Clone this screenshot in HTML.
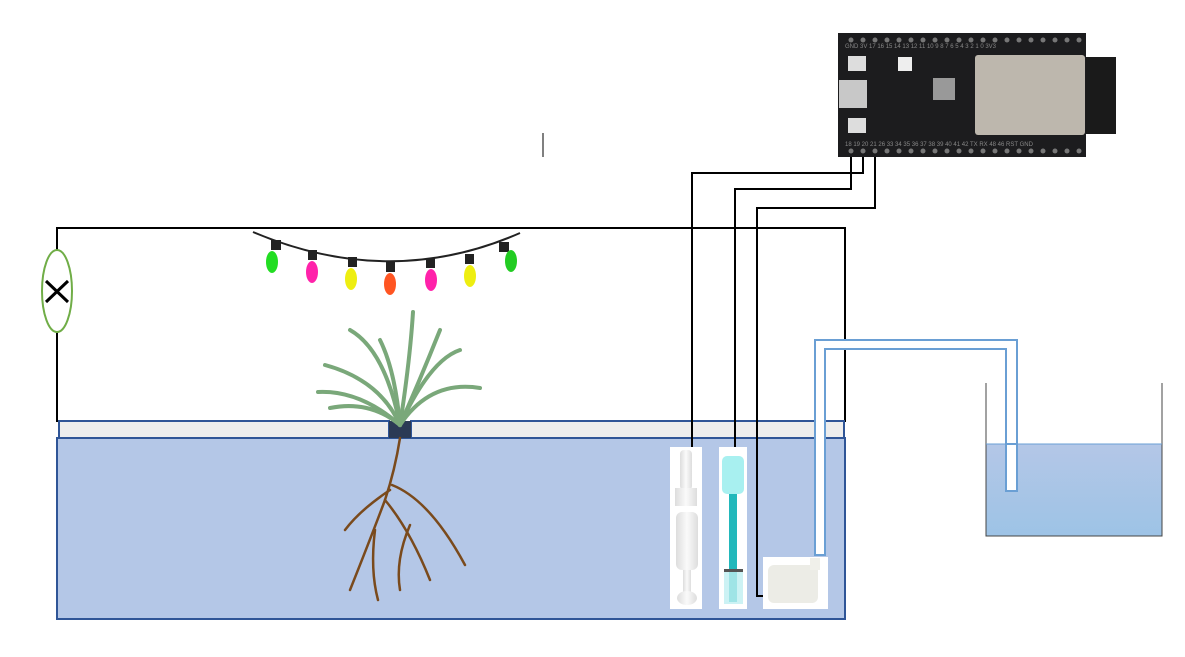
<!DOCTYPE html>
<html><head><meta charset="utf-8"><style>html,body{margin:0;padding:0;background:#fff}svg{display:block}</style></head>
<body>
<svg width="1185" height="657" viewBox="0 0 1185 657" xmlns="http://www.w3.org/2000/svg">
<defs>
<linearGradient id="wg" x1="0" y1="0" x2="0" y2="1"><stop offset="0" stop-color="#b4c7e7"/><stop offset="1" stop-color="#9dc3e6"/></linearGradient>
<linearGradient id="pg" x1="0" y1="0" x2="1" y2="0"><stop offset="0" stop-color="#ddd"/><stop offset=".5" stop-color="#fafafa"/><stop offset="1" stop-color="#ddd"/></linearGradient>
</defs>
<!-- circuit frame -->
<g fill="none" stroke="#000" stroke-width="2">
<path d="M57 250 V228 H845 V422"/>
<path d="M57 332 V422"/>
</g>
<g>
<ellipse cx="57" cy="291" rx="15" ry="41" fill="#fff" stroke="#70ad47" stroke-width="2"/>
<path d="M46 281 L68 302 M68 281 L46 302" stroke="#000" stroke-width="3"/>
</g>
<line x1="543" y1="133" x2="543" y2="157" stroke="#000" stroke-width="1"/>
<!-- lights -->
<g>
<path d="M253 232 Q390 290 520 233" fill="none" stroke="#222" stroke-width="2"/>
<g stroke="none">
<rect x="271" y="240" width="10" height="10" fill="#222"/><ellipse cx="272" cy="262" rx="6" ry="11" fill="#22dd22"/>
<rect x="308" y="250" width="9" height="10" fill="#222"/><ellipse cx="312" cy="272" rx="6" ry="11" fill="#ff22aa"/>
<rect x="348" y="257" width="9" height="10" fill="#222"/><ellipse cx="351" cy="279" rx="6" ry="11" fill="#eeee11"/>
<rect x="386" y="262" width="9" height="10" fill="#222"/><ellipse cx="390" cy="284" rx="6" ry="11" fill="#ff5522"/>
<rect x="426" y="258" width="9" height="10" fill="#222"/><ellipse cx="431" cy="280" rx="6" ry="11" fill="#ff22aa"/>
<rect x="465" y="254" width="9" height="10" fill="#222"/><ellipse cx="470" cy="276" rx="6" ry="11" fill="#eeee11"/>
<rect x="499" y="242" width="10" height="10" fill="#222"/><ellipse cx="511" cy="261" rx="6" ry="11" fill="#22cc22"/>
</g></g>
<!-- tank -->
<rect x="57" y="438" width="788" height="181" fill="#b4c7e7" stroke="#2f5597" stroke-width="2"/>
<rect x="59" y="421" width="330" height="17" fill="#ededed" stroke="#2f5597" stroke-width="2"/>
<rect x="411" y="421" width="433" height="17" fill="#ededed" stroke="#2f5597" stroke-width="2"/>
<rect x="389" y="421" width="22" height="17" fill="#2b3a55"/>
<!-- plant -->
<g stroke-linecap="round">
<g stroke="#7aa87a" stroke-width="4" fill="none">
<path d="M400 425 Q380 380 325 365"/><path d="M400 425 Q360 390 318 392"/><path d="M400 425 Q410 360 413 312"/>
<path d="M400 425 Q385 350 350 330"/><path d="M400 425 Q430 380 480 388"/><path d="M400 425 Q430 360 460 350"/>
<path d="M400 425 Q395 370 380 340"/><path d="M400 425 Q420 380 440 330"/><path d="M400 425 Q370 400 330 408"/>
</g>
<g stroke="#7a4a1c" stroke-width="2.5" fill="none">
<path d="M400 438 Q395 470 385 500 Q370 540 350 590"/><path d="M385 500 Q410 530 430 580"/><path d="M390 490 Q360 510 345 530"/>
<path d="M392 485 Q430 500 465 565"/><path d="M375 530 Q370 570 378 600"/><path d="M410 525 Q395 560 400 590"/>
</g></g>
<!-- wires -->
<g fill="none" stroke="#000" stroke-width="2">
<path d="M863 150 V173 H692 V450"/>
<path d="M851 150 V189 H735 V450"/>
<path d="M875 150 V208 H757 V596 H766"/>
</g>
<!-- float switch -->
<g>
<rect x="670" y="447" width="32" height="162" fill="#fff"/>
<rect x="680" y="450" width="12" height="40" rx="4" fill="url(#pg)"/>
<rect x="675" y="488" width="22" height="18" fill="url(#pg)"/>
<rect x="676" y="512" width="22" height="58" rx="6" fill="url(#pg)"/>
<rect x="683" y="570" width="8" height="25" fill="url(#pg)"/>
<ellipse cx="687" cy="598" rx="10" ry="7" fill="url(#pg)"/>
</g>
<!-- pH probe -->
<g>
<rect x="719" y="447" width="28" height="162" fill="#fff"/>
<rect x="722" y="456" width="22" height="38" rx="5" fill="#a8f0f0"/>
<rect x="729" y="494" width="8" height="108" fill="#22b8bb"/>
<rect x="724" y="569" width="19" height="35" fill="#bfeff1" opacity=".8"/>
<rect x="724" y="569" width="19" height="3" fill="#555"/>
</g>
<!-- pipe -->
<g fill="#fff" stroke="#6a9fd4" stroke-width="2">
<path d="M815 555 V340 H1017 V491 H1006 V349 H825 V555 Z"/>
</g>
<!-- pump -->
<g>
<rect x="763" y="557" width="65" height="52" fill="#fff"/>
<rect x="768" y="565" width="50" height="38" rx="6" fill="#ecece6"/>
<rect x="810" y="558" width="10" height="12" fill="#f0f0ea"/>
</g>
<!-- reservoir -->
<g>
<rect x="986" y="444" width="176" height="92" fill="url(#wg)"/>
<path d="M986 383 V536 H1162 V383" fill="none" stroke="#444" stroke-width="1"/>
<path d="M986 444 H1162" stroke="#6a9fd4" stroke-width="1"/>
<rect x="1006" y="444" width="11" height="47" fill="#fff" stroke="#6a9fd4" stroke-width="2"/>
</g>
<!-- board -->
<g>
<rect x="1080" y="57" width="36" height="77" fill="#1a1a1a"/>
<rect x="838" y="33" width="248" height="124" fill="#1c1c1e"/>
<rect x="975" y="55" width="110" height="80" rx="3" fill="#bdb7ad"/>
<rect x="839" y="80" width="28" height="28" fill="#c8c8c8"/>
<rect x="848" y="56" width="18" height="15" fill="#ddd"/>
<rect x="848" y="118" width="18" height="15" fill="#ddd"/>
<rect x="898" y="57" width="14" height="14" fill="#eee"/>
<rect x="933" y="78" width="22" height="22" fill="#999"/>
<g fill="#888" font-family="Liberation Sans, sans-serif" font-size="6">
<text x="845" y="48">GND 3V  17  16  15  14  13  12  11  10  9  8  7  6  5  4  3  2  1  0  3V3</text>
<text x="845" y="146">18  19  20  21  26  33  34  35  36  37  38  39  40  41  42  TX RX 48 46 RST GND</text>
</g>
<g fill="#777">
<circle cx="851" cy="40" r="2.5"/><circle cx="863" cy="40" r="2.5"/><circle cx="875" cy="40" r="2.5"/><circle cx="887" cy="40" r="2.5"/><circle cx="899" cy="40" r="2.5"/><circle cx="911" cy="40" r="2.5"/><circle cx="923" cy="40" r="2.5"/><circle cx="935" cy="40" r="2.5"/><circle cx="947" cy="40" r="2.5"/><circle cx="959" cy="40" r="2.5"/><circle cx="971" cy="40" r="2.5"/><circle cx="983" cy="40" r="2.5"/><circle cx="995" cy="40" r="2.5"/><circle cx="1007" cy="40" r="2.5"/><circle cx="1019" cy="40" r="2.5"/><circle cx="1031" cy="40" r="2.5"/><circle cx="1043" cy="40" r="2.5"/><circle cx="1055" cy="40" r="2.5"/><circle cx="1067" cy="40" r="2.5"/><circle cx="1079" cy="40" r="2.5"/>
<circle cx="851" cy="151" r="2.5"/><circle cx="863" cy="151" r="2.5"/><circle cx="875" cy="151" r="2.5"/><circle cx="887" cy="151" r="2.5"/><circle cx="899" cy="151" r="2.5"/><circle cx="911" cy="151" r="2.5"/><circle cx="923" cy="151" r="2.5"/><circle cx="935" cy="151" r="2.5"/><circle cx="947" cy="151" r="2.5"/><circle cx="959" cy="151" r="2.5"/><circle cx="971" cy="151" r="2.5"/><circle cx="983" cy="151" r="2.5"/><circle cx="995" cy="151" r="2.5"/><circle cx="1007" cy="151" r="2.5"/><circle cx="1019" cy="151" r="2.5"/><circle cx="1031" cy="151" r="2.5"/><circle cx="1043" cy="151" r="2.5"/><circle cx="1055" cy="151" r="2.5"/><circle cx="1067" cy="151" r="2.5"/><circle cx="1079" cy="151" r="2.5"/>
</g></g>
</svg>
</body></html>
